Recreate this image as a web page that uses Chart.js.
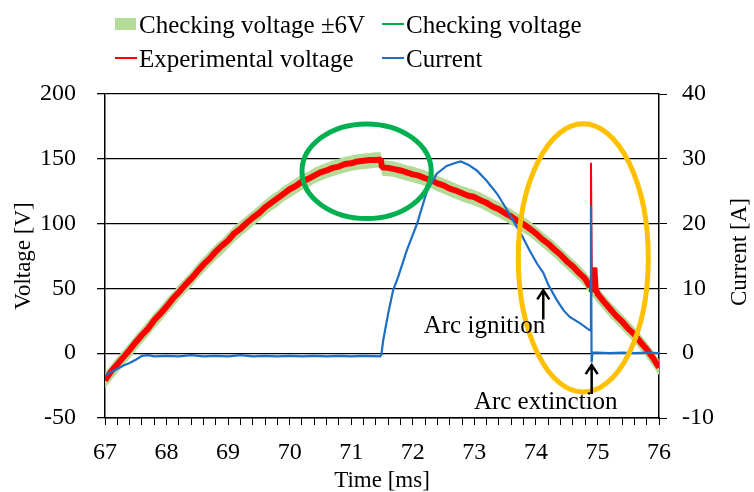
<!DOCTYPE html>
<html>
<head>
<meta charset="utf-8">
<script src="https://cdn.jsdelivr.net/npm/chart.js@4.4.1/dist/chart.umd.min.js"></script>
<style>
  body { margin: 0; background: #fff; }
  canvas { display: block; }
</style>
</head>
<body>
<canvas id="arcChart" width="754" height="492"></canvas>
<script>
const serif = "'Liberation Serif', 'Times New Roman', serif";

// checking voltage [V] vs time [ms]
let voltTime = [67.0, 67.1, 67.2, 67.3, 67.4, 67.5, 67.6, 67.7, 67.8, 67.9,
  68.0, 68.1, 68.2, 68.3, 68.4, 68.5, 68.6, 68.7, 68.8, 68.9,
  69.0, 69.1, 69.2, 69.3, 69.4, 69.5, 69.6, 69.7, 69.8, 69.9,
  70.0, 70.1, 70.2, 70.3, 70.4, 70.5, 70.6, 70.7, 70.8, 70.9,
  71.0, 71.1, 71.2, 71.3, 71.4, 71.48, 71.5, 71.6, 71.7, 71.8, 71.9,
  72.0, 72.1, 72.2, 72.3, 72.4, 72.5, 72.6, 72.7, 72.8, 72.9,
  73.0, 73.1, 73.2, 73.3, 73.4, 73.5, 73.6, 73.7, 73.8, 73.9,
  74.0, 74.1, 74.2, 74.3, 74.4, 74.5, 74.6, 74.7, 74.8, 74.9,
  75.0, 75.1, 75.2, 75.3, 75.4, 75.5, 75.6, 75.7, 75.8, 75.9, 76.0]
let checkingVoltage = [-21, -15, -9, -3.5, 2, 8, 13.5, 19, 25, 30,
  36, 41, 47, 52, 57, 63, 68, 73, 78, 82,
  87, 92, 96, 100, 104, 108, 112, 116, 119, 123,
  126, 129, 132, 134, 137, 139, 141, 142.5, 144, 145.5,
  146.5, 147.5, 148, 148.5, 149, 149, 143, 142.5, 142, 140.5, 139,
  138, 136.5, 135, 133, 131, 129, 127, 125, 123, 121.5,
  120, 118, 115.5, 113, 110.5, 108, 105, 102, 99, 96,
  92, 88, 84, 80, 75.5, 71, 66.5, 62, 57, 51,
  45, 39.5, 34, 29, 24, 19, 14, 8.5, 2.5, -4, -11]

// experimental voltage [V]
let expTime = [67.0, 67.1, 67.2, 67.3, 67.4, 67.5, 67.6, 67.7, 67.8, 67.9,
  68.0, 68.1, 68.2, 68.3, 68.4, 68.5, 68.6, 68.7, 68.8, 68.9,
  69.0, 69.1, 69.2, 69.3, 69.4, 69.5, 69.6, 69.7, 69.8, 69.9,
  70.0, 70.1, 70.2, 70.3, 70.4, 70.5, 70.6, 70.7, 70.8, 70.9,
  71.0, 71.1, 71.2, 71.3, 71.4, 71.48, 71.5, 71.6, 71.7, 71.8, 71.9,
  72.0, 72.1, 72.2, 72.3, 72.4, 72.5, 72.6, 72.7, 72.8, 72.9,
  73.0, 73.1, 73.2, 73.3, 73.4, 73.5, 73.6, 73.7, 73.8, 73.9,
  74.0, 74.1, 74.2, 74.3, 74.4, 74.5, 74.6, 74.7, 74.8, 74.88,
  74.895, 74.91, 74.93, 74.95, 74.97,
  75.0, 75.1, 75.2, 75.3, 75.4, 75.5, 75.6, 75.7, 75.8, 75.9, 76.0]
let experimentalVoltage = [-21, -14, -8.5, -3, 2.5, 8.5, 14, 19, 25.5, 30.5,
  36, 42, 47, 52.5, 57.5, 63, 68.5, 73, 78.5, 83,
  87, 92.5, 96, 100.5, 104.5, 108, 112.5, 116, 119.5, 123,
  126.5, 129, 132.5, 134.5, 137, 139.5, 141, 143, 144, 146,
  146.5, 148, 148.5, 149, 149, 149.5, 143.5, 143, 142, 141, 139.5,
  138, 137, 135, 133.5, 131, 129.5, 127, 125.5, 123.5, 121.5,
  120.5, 118, 116, 113, 111, 108, 105.5, 102, 99.5, 96,
  92.5, 88, 84.5, 80, 76, 71, 67, 62, 57.5, 51,
  147, 47, 62, 66, 50,
  46, 40, 34.5, 29, 24.5, 19, 14.5, 8.5, 3, -3.5, -11]

// current [A]
let currentTime = [67.0, 67.1, 67.2, 67.3, 67.4, 67.5, 67.6, 67.7, 67.8,
  68.0, 68.2, 68.4, 68.6, 68.8, 69.0, 69.2, 69.4, 69.6, 69.8,
  70.0, 70.2, 70.4, 70.6, 70.8, 71.0, 71.2, 71.47,
  71.49, 71.52, 71.6, 71.68, 71.76, 71.9, 72.07, 72.23, 72.39, 72.55,
  72.7, 72.78, 72.9, 73.04, 73.2, 73.37, 73.5, 73.63, 73.77, 73.9,
  74.02, 74.12, 74.2, 74.34, 74.45, 74.55, 74.72, 74.88,
  74.895, 74.905, 74.92, 75.0, 75.2, 75.4, 75.6, 75.8, 76.0]
let current = [-3.4, -2.9, -2.4, -1.9, -1.5, -1.0, -0.4, -0.3, -0.5,
  -0.4, -0.5, -0.3, -0.5, -0.4, -0.5, -0.3, -0.5, -0.4, -0.5,
  -0.4, -0.5, -0.4, -0.5, -0.4, -0.5, -0.4, -0.5,
  -0.2, 2, 6.1, 9.7, 11.7, 15.8, 20, 25, 27.7, 28.9,
  29.4, 29.6, 29.1, 28.2, 26.6, 24.6, 22.6, 20.5, 18.2, 15.8,
  13.8, 12.4, 10.6, 8.2, 6.6, 5.6, 4.6, 3.5,
  22.8, -1.4, 0.1, 0.1, 0.0, 0.1, 0.0, 0.1, 0.0]

const BAND = 6 // tolerance around the checking voltage, V

function pts(xs, ys) {
  return xs.map((x, i) => ({x: x, y: ys[i]}))
}

let bandHigh = checkingVoltage.map(v => v + BAND)
let bandLow = checkingVoltage.map(v => v - BAND)

// ellipses, arrows and notes placed in data units
const rings = [
  {x: 71.25, y: 140.4, rx: 1.05, ry: 36.5, color: '#00B050'},
  {x: 74.77, y: 73.5, rx: 1.056, ry: 103.5, color: '#FFC000'}
]
const arrows = [
  {x: 74.12, from: 26, to: 48.5},
  {x: 74.906, from: -31.5, to: -9.2}
]
const notes = [
  {text: 'Arc ignition', x: 73.165, y: 15.4},
  {text: 'Arc extinction', x: 74.16, y: -43.3}
]

const extras = {
  id: 'extras',
  afterDatasetsDraw(chart) {
    const ctx = chart.ctx
    const xs = chart.scales.x, ys = chart.scales.y
    ctx.save()
    rings.forEach(r => {
      const cx = xs.getPixelForValue(r.x), cy = ys.getPixelForValue(r.y)
      const rx = xs.getPixelForValue(r.x + r.rx) - cx
      const ry = cy - ys.getPixelForValue(r.y + r.ry)
      ctx.beginPath()
      ctx.ellipse(cx, cy, rx, ry, 0, 0, Math.PI * 2)
      ctx.lineWidth = 5
      ctx.strokeStyle = r.color
      ctx.stroke()
    })
    ctx.strokeStyle = '#000'
    ctx.lineWidth = 2.5
    arrows.forEach(a => {
      const x = xs.getPixelForValue(a.x)
      const y0 = ys.getPixelForValue(a.from), y1 = ys.getPixelForValue(a.to)
      ctx.beginPath()
      ctx.moveTo(x, y0)
      ctx.lineTo(x, y1)
      ctx.moveTo(x - 6, y1 + 9)
      ctx.lineTo(x, y1)
      ctx.lineTo(x + 6, y1 + 9)
      ctx.stroke()
    })
    ctx.fillStyle = '#000'
    ctx.font = '25px ' + serif
    ctx.textAlign = 'center'
    ctx.textBaseline = 'alphabetic'
    notes.forEach(n => {
      ctx.fillText(n.text, xs.getPixelForValue(n.x), ys.getPixelForValue(n.y))
    })
    ctx.restore()
  },
  afterDraw(chart) {
    const ctx = chart.ctx
    const ds = chart.data.datasets
    ctx.save()
    // right axis title, reading upwards
    ctx.font = '23px ' + serif
    ctx.fillStyle = '#000'
    ctx.textAlign = 'center'
    ctx.textBaseline = 'middle'
    ctx.translate(740, 252)
    ctx.rotate(-Math.PI / 2)
    ctx.fillText('Current [A]', 0, 0)
    ctx.restore()

    // legend in two columns
    ctx.save()
    ctx.font = '25px ' + serif
    ctx.fillStyle = '#000'
    ctx.textBaseline = 'alphabetic'
    const items = [
      {ds: ds[3], col: 0, row: 0, box: true},
      {ds: ds[2], col: 1, row: 0},
      {ds: ds[1], col: 0, row: 1},
      {ds: ds[0], col: 1, row: 1}
    ]
    items.forEach(it => {
      const x0 = it.col ? 382 : 115
      const yc = it.row ? 58 : 24
      if (it.box) {
        ctx.fillStyle = it.ds.backgroundColor
        ctx.fillRect(x0, yc - 6, 21, 12)
      } else {
        ctx.strokeStyle = it.ds.borderColor
        ctx.lineWidth = 2
        ctx.beginPath()
        ctx.moveTo(x0, yc)
        ctx.lineTo(x0 + 22, yc)
        ctx.stroke()
      }
      ctx.fillStyle = '#000'
      ctx.fillText(it.ds.label, x0 + 24, yc + 9)
    })
    ctx.restore()
  }
}

let chart = new Chart(document.getElementById('arcChart').getContext('2d'), {
  type: 'line',
  data: {
    datasets: [
      {
        label: 'Current',
        data: pts(currentTime, current),
        yAxisID: 'y1',
        borderColor: '#1C6FC2',
        borderWidth: 2.2,
        pointRadius: 0
      },
      {
        label: 'Experimental voltage',
        data: pts(expTime, experimentalVoltage),
        yAxisID: 'y',
        borderColor: '#FF0000',
        borderWidth: 6,
        borderJoinStyle: 'bevel',
        pointRadius: 0,
        segment: {
          borderWidth: c => Math.abs(c.p1.y - c.p0.y) > 40 ? 2 : 6
        }
      },
      {
        label: 'Checking voltage',
        data: pts(voltTime, checkingVoltage),
        yAxisID: 'y',
        borderColor: '#00B050',
        borderWidth: 2,
        pointRadius: 0
      },
      {
        label: 'Checking voltage \u00b16V',
        data: pts(voltTime, bandHigh),
        yAxisID: 'y',
        borderWidth: 0,
        borderColor: 'rgba(0,0,0,0)',
        backgroundColor: '#B4DB98',
        fill: '+1',
        pointRadius: 0
      },
      {
        label: 'band low',
        data: pts(voltTime, bandLow),
        yAxisID: 'y',
        borderWidth: 0,
        borderColor: 'rgba(0,0,0,0)',
        fill: false,
        pointRadius: 0
      }
    ]
  },
  options: {
    responsive: false,
    animation: false,
    layout: {padding: {top: 94, left: 0, right: 0, bottom: 0}},
    plugins: {
      legend: {display: false},
      tooltip: {enabled: false}
    },
    scales: {
      x: {
        type: 'linear',
        min: 67,
        max: 76,
        afterFit: s => { s.height = 74 },
        border: {color: '#000', width: 1.5},
        grid: {drawOnChartArea: false, color: '#000', tickLength: 7, lineWidth: 1},
        ticks: {
          stepSize: 0.2,
          autoSkip: false,
          maxRotation: 0,
          maxTicksLimit: 100,
          padding: 13,
          color: '#000',
          font: {family: serif, size: 24},
          callback: v => Math.abs(v - Math.round(v)) < 1e-6 ? String(Math.round(v)) : ''
        },
        title: {
          display: true,
          text: 'Time [ms]',
          color: '#000',
          font: {family: serif, size: 23, lineHeight: 1},
          padding: 0
        }
      },
      y: {
        position: 'left',
        min: -50,
        max: 200,
        afterFit: s => { s.width = 105 },
        border: {color: '#000', width: 1.5},
        grid: {color: '#000', lineWidth: 1.3, tickLength: 8},
        ticks: {
          stepSize: 50,
          padding: 21,
          color: '#000',
          font: {family: serif, size: 24}
        },
        title: {
          display: true,
          text: 'Voltage [V]',
          color: '#000',
          font: {family: serif, size: 23, lineHeight: 1},
          padding: {top: 12, bottom: 0}
        }
      },
      y1: {
        position: 'right',
        min: -10,
        max: 40,
        afterFit: s => { s.width = 95 },
        border: {color: '#000', width: 1.5},
        grid: {drawOnChartArea: false, color: '#000', tickLength: 8},
        ticks: {
          stepSize: 10,
          padding: 15,
          color: '#000',
          font: {family: serif, size: 24}
        }
      }
    }
  },
  plugins: [extras]
})
</script>
</body>
</html>
